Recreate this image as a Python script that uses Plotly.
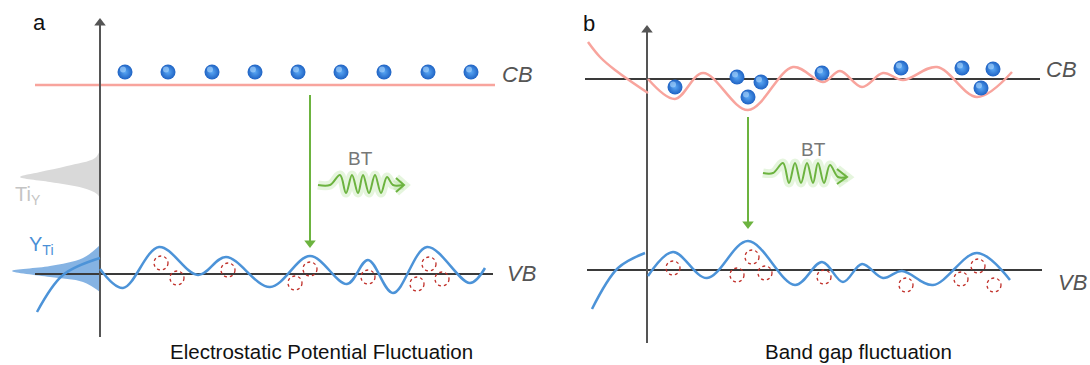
import plotly.graph_objects as go

# ---------------- data (pixel-space schematic coordinates) ----------------
# Panel a
a_axis_x = [100, 100]
a_axis_y = [337, 18]
a_cb_x = [35, 495]
a_cb_y = [85, 85]
a_electron_x = [125, 168, 212, 255, 298, 341, 384, 428, 471]
a_electron_y = [72, 72, 72, 72, 72, 72, 72, 72, 72]
a_vb_x = [35, 493]
a_vb_y = [274, 274]
a_vbcurve_x = [100, 123, 159, 198, 226, 270, 310, 347, 368, 393, 427, 470, 485]
a_vbcurve_y = [269, 288, 247, 275, 257, 287, 256, 284, 260, 293, 247, 283, 268]
a_vbleft_x = [37, 63, 100]
a_vbleft_y = [312, 275, 258]
a_hole_x = [161, 177, 228, 295, 310, 368, 417, 429, 442]
a_hole_y = [263, 278, 270, 283, 269, 277, 284, 264, 279]
a_tidos_x = [100, 95, 67, 40, 20, 50, 83, 97, 100]
a_tidos_y = [150, 158, 166, 172, 177, 182, 188, 194, 198]
a_ydos_x = [100, 83, 50, 12, 50, 83, 100]
a_ydos_y = [245, 258, 266, 271, 277, 282, 292]
a_bt_arrow_x = [310, 310]
a_bt_arrow_y = [95, 248]
a_wave_x = [318, 330, 340, 346, 352, 358, 363, 369, 375, 381, 387, 393, 403]
a_wave_y = [185, 185, 175, 193, 175, 193, 175, 193, 175, 193, 177, 185, 185]
a_head_x = [396, 404, 396]
a_head_y = [178, 185, 192]

# Panel b
b_axis_x = [647, 647]
b_axis_y = [343, 25]
b_cb_x = [585, 1040]
b_cb_y = [79, 79]
b_cbleft_x = [588, 600, 615, 648]
b_cbleft_y = [42, 57, 70, 93]
b_cbcurve_x = [648, 675, 703, 748, 793, 823, 840, 862, 883, 903, 937, 977, 1012]
b_cbcurve_y = [79, 99, 73, 110, 67, 82, 71, 87, 73, 80, 67, 97, 72]
b_electron_x = [675, 737, 761, 748, 822, 901, 962, 993, 981]
b_electron_y = [87, 77, 82, 97, 73, 68, 68, 69, 88]
b_vb_x = [587, 1042]
b_vb_y = [270, 270]
b_vbleft_x = [592, 618, 645]
b_vbleft_y = [309, 268, 253]
b_vbcurve_x = [648, 673, 707, 748, 795, 822, 843, 862, 883, 902, 933, 977, 1010]
b_vbcurve_y = [276, 252, 278, 241, 285, 262, 282, 264, 278, 271, 285, 253, 280]
b_hole_x = [673, 737, 752, 765, 824, 906, 961, 978, 994]
b_hole_y = [268, 275, 257, 273, 277, 285, 279, 266, 285]
b_bt_arrow_x = [748, 748]
b_bt_arrow_y = [117, 229]
b_wave_x = [763, 773, 783, 789, 795, 801, 807, 813, 818, 824, 830, 838, 847]
b_wave_y = [173, 173, 163, 183, 163, 183, 163, 183, 163, 183, 165, 177, 177]
b_head_x = [837, 847, 837]
b_head_y = [169, 177, 184]

# Text labels
labels_text = ["a", "b", "CB", "VB", "CB", "VB", "BT", "BT",
               "Ti<sub>Y</sub>", "Y<sub>Ti</sub>",
               "Electrostatic Potential Fluctuation", "Band gap fluctuation"]
labels_x = [39, 589, 517, 521, 1061, 1072, 360, 813, 28, 41, 321, 858]
labels_y = [22, 23, 74, 273, 69, 282, 158, 149, 195, 245, 351, 351]
labels_style = ["normal", "normal", "italic", "italic", "italic", "italic", "normal", "normal",
                "normal", "normal", "normal", "normal"]
labels_color = ["#111111", "#111111", "#555555", "#555555", "#555555", "#555555",
                "#777777", "#777777", "#c4c4c4", "#4a8fd6", "#111111", "#111111"]
labels_size = [22, 22, 22, 22, 22, 22, 19, 19, 20, 20, 20.5, 20.5]

# ---------------- styles ----------------
PINK = "#f8a49d"
BLUE = "#4c93d8"
GREEN = "#6cb33f"
AXIS = "#555555"
LINE = "#3a3a3a"
HOLE = "#c0302a"
FONT = "Liberation Sans, Arial, sans-serif"

fig = go.Figure()


def line(x, y, color, width, shape="linear", fill=None, fillcolor=None):
    fig.add_trace(go.Scatter(x=x, y=y, mode="lines", line=dict(color=color, width=width, shape=shape),
                             fill=fill, fillcolor=fillcolor,
                             hoverinfo="skip", showlegend=False))


def tip(x, y, symbol, color, size):
    fig.add_trace(go.Scatter(x=[x], y=[y], mode="markers",
                             marker=dict(symbol=symbol, size=size, color=color, line=dict(width=0)),
                             hoverinfo="skip", showlegend=False))


# DOS fills (panel a)
line(a_tidos_x, a_tidos_y, "rgba(0,0,0,0)", 0, "spline", "toself", "#d9d9d9")
line(a_ydos_x, a_ydos_y, "rgba(0,0,0,0)", 0, "spline", "toself", "rgba(112,166,222,0.85)")

# Band reference lines
line(a_cb_x, a_cb_y, PINK, 2.5)
line(a_vb_x, a_vb_y, LINE, 2)
line(b_cb_x, b_cb_y, LINE, 2)
line(b_vb_x, b_vb_y, LINE, 2)

# Energy axes with arrowheads
for axx, axy in [(a_axis_x, a_axis_y), (b_axis_x, b_axis_y)]:
    line(axx, [axy[0], axy[1] + 6], AXIS, 2)
    tip(axx[1], axy[1] + 5, "triangle-up", AXIS, 10)

# Fluctuating curves
line(a_vbleft_x, a_vbleft_y, BLUE, 2.5, "spline")
line(a_vbcurve_x, a_vbcurve_y, BLUE, 2.5, "spline")
line(b_cbleft_x, b_cbleft_y, PINK, 2.5, "spline")
line(b_cbcurve_x, b_cbcurve_y, PINK, 2.5, "spline")
line(b_vbleft_x, b_vbleft_y, BLUE, 2.5, "spline")
line(b_vbcurve_x, b_vbcurve_y, BLUE, 2.5, "spline")

# Green transition arrows
for gx, gy in [(a_bt_arrow_x, a_bt_arrow_y), (b_bt_arrow_x, b_bt_arrow_y)]:
    line(gx, [gy[0], gy[1] - 6], GREEN, 2)
    tip(gx[1], gy[1] - 5, "triangle-down", GREEN, 10)

# Wavy photon arrows with glow
for wx, wy, hx, hy in [(a_wave_x, a_wave_y, a_head_x, a_head_y),
                       (b_wave_x, b_wave_y, b_head_x, b_head_y)]:
    line(wx, wy, "rgba(150,215,120,0.25)", 9, "spline")
    line(hx, hy, "rgba(150,215,120,0.25)", 9)
    line(wx, wy, GREEN, 2, "spline")
    line(hx, hy, GREEN, 2)

# Electrons
for ex, ey in [(a_electron_x, a_electron_y), (b_electron_x, b_electron_y)]:
    fig.add_trace(go.Scatter(x=ex, y=ey, mode="markers",
                             marker=dict(size=15, color="#1f63c4",
                                         gradient=dict(type="radial", color="#5aa8f5"),
                                         line=dict(width=0)),
                             hoverinfo="skip", showlegend=False))
    fig.add_trace(go.Scatter(x=[v - 2 for v in ex], y=[v - 2.5 for v in ey], mode="markers",
                             marker=dict(size=6, color="rgba(175,218,255,0.6)", line=dict(width=0)),
                             hoverinfo="skip", showlegend=False))

# Holes (dotted circles)
shapes = []
R = 7
for hx, hy in [(a_hole_x, a_hole_y), (b_hole_x, b_hole_y)]:
    for cx, cy in zip(hx, hy):
        shapes.append(dict(type="circle", xref="x", yref="y", x0=cx - R, x1=cx + R, y0=cy - R, y1=cy + R,
                           line=dict(color=HOLE, width=1.3, dash="dot")))

annotations = []
for t, x, y, st, c, s in zip(labels_text, labels_x, labels_y, labels_style, labels_color, labels_size):
    annotations.append(dict(x=x, y=y, xref="x", yref="y", text=t, showarrow=False,
                            font=dict(family=FONT, size=s, color=c, style=st),
                            xanchor="center", yanchor="middle"))

fig.update_layout(
    width=1090, height=365, autosize=False,
    margin=dict(l=0, r=0, t=0, b=0, pad=0),
    paper_bgcolor="white", plot_bgcolor="white",
    xaxis=dict(range=[0, 1090], visible=False, fixedrange=True),
    yaxis=dict(range=[365, 0], visible=False, fixedrange=True),
    shapes=shapes, annotations=annotations,
    font=dict(family=FONT),
)

fig.write_html("out.html", config={"displayModeBar": False},
               post_script="document.body.style.margin='0';")
